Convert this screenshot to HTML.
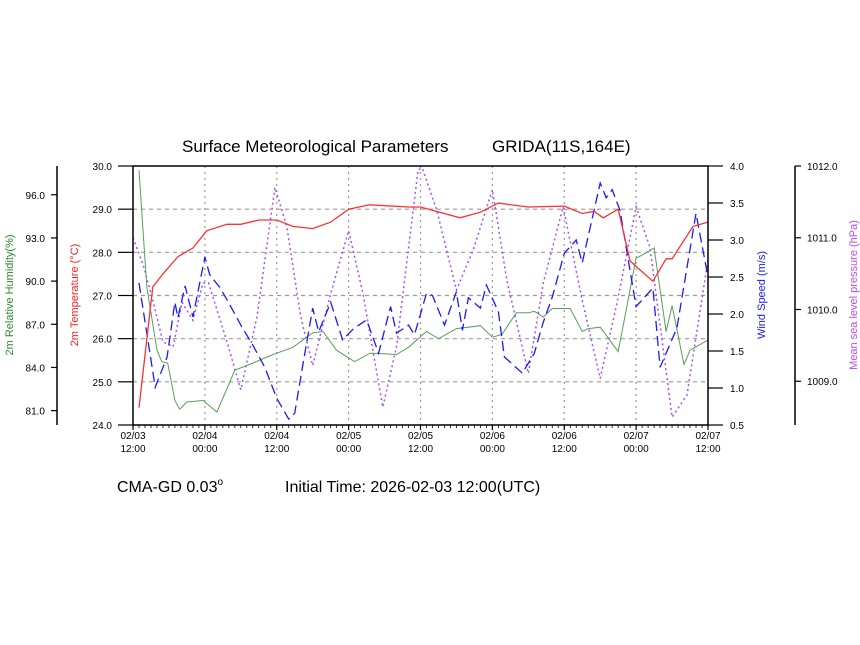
<!DOCTYPE html>
<html><head><meta charset="utf-8"><style>
html,body{margin:0;padding:0;background:#fff;}
svg{display:block;font-family:"Liberation Sans",sans-serif;}
</style></head><body>
<svg id="chart" width="860" height="645" viewBox="0 0 860 645" xmlns="http://www.w3.org/2000/svg">
<rect width="860" height="645" fill="#fff"/>
<text x="182" y="152" font-size="17" fill="#000">Surface Meteorological Parameters</text>
<text x="492" y="152" font-size="17" fill="#000">GRIDA(11S,164E)</text>
<g id="grid"></g>
<g id="series"></g>
<g id="axes"></g>
<text x="117" y="492" font-size="16" fill="#000">CMA-GD 0.03<tspan font-size="10" dy="-7">o</tspan></text>
<text x="285" y="492" font-size="16" fill="#000">Initial Time: 2026-02-03 12:00(UTC)</text>
<text transform="translate(13,295) rotate(-90)" font-size="11" fill="#2e8b2e" text-anchor="middle">2m Relative Humidity(%)</text>
<text transform="translate(78,295) rotate(-90)" font-size="11" fill="#ff2020" text-anchor="middle">2m Temperature (°C)</text>
<text transform="translate(765,295) rotate(-90)" font-size="11" fill="#1a1aff" text-anchor="middle">Wind Speed (m/s)</text>
<text transform="translate(857,295) rotate(-90)" font-size="11" fill="#b84cf0" text-anchor="middle">Mean sea level pressure (hPa)</text>
</svg>
<script>
const xTickHours = [0,12,24,36,48,60,72,84,96];
const xTickDates = ["02/03","02/04","02/04","02/05","02/05","02/06","02/06","02/07","02/07"];
const xTickTimes = ["12:00","00:00","12:00","00:00","12:00","00:00","12:00","00:00","12:00"];
const tempTicks = [24,25,26,27,28,29,30];
const rhTicks = [81,84,87,90,93,96];
const windTicks = [0.5,1,1.5,2,2.5,3,3.5,4];
const presTicks = [1009,1010,1011,1012];

const tempHours = [1,3.3,5,7.5,10,12.3,15.7,18,21,24,26.7,30,33,36,39.5,46,48,54.6,58,61,66,72,75,77,78.5,81,83,84.6,86.8,89,90,93.5,96];
const tempVals  = [24.4,27.2,27.5,27.9,28.1,28.5,28.65,28.65,28.75,28.75,28.6,28.55,28.7,29.0,29.1,29.05,29.05,28.8,28.93,29.14,29.05,29.07,28.9,28.95,28.8,29.0,27.8,27.6,27.33,27.85,27.85,28.6,28.7];

const rhHours = [1,2.3,4,4.8,5.8,7,7.8,9,11.7,14,17,20,23.4,26.7,30,31.7,34,37,39.6,44,46,49,51,54,58,60,61.6,64,66,67,68.5,70,73,75,76,78,81,84,85,87,89,90,92,93,96];
const rhVals  = [97.7,89.6,85.2,84.4,84.3,81.7,81.1,81.6,81.7,80.9,83.8,84.3,84.9,85.4,86.4,86.5,85.2,84.4,85.0,84.9,85.4,86.5,86.0,86.7,86.9,86.1,86.3,87.8,87.8,87.9,87.5,88.1,88.1,86.5,86.7,86.8,85.1,91.6,91.8,92.3,86.5,88.3,84.2,85.2,85.9];

const windHours = [1,3.7,5.7,7,7.5,8.7,10,12,12.8,14.5,16,18,20,22,24,26,27,28.5,30,31,33,35,36.8,39,41,43,44,46,47,49,50,52,54,55,56,58,59,61,62,65,67,68.5,70,72,74,75,78,79,80,81.3,84,86.8,88,90.8,94,96];
const windVals  = [2.42,1.01,1.42,2.16,1.95,2.38,1.96,2.77,2.53,2.36,2.15,1.85,1.58,1.28,0.86,0.58,0.66,1.38,2.08,1.76,2.16,1.65,1.8,1.92,1.47,2.1,1.74,1.85,1.72,2.28,2.25,1.85,2.3,1.78,2.22,2.08,2.39,2.03,1.42,1.2,1.47,1.89,2.23,2.82,3.0,2.69,3.77,3.57,3.68,3.4,2.1,2.35,1.28,1.81,3.36,2.5];

const presHours = [0,1.7,3.3,5,6.7,8.2,10,11.7,12.6,15.7,18,20.7,23.7,25.7,28,30,33,36,38.4,41.7,44,47.6,48.3,50.7,54,56.8,60,62.4,66,68.5,71.8,75,78,80.8,84,86.3,90,92.5,96];
const presVals  = [1011.0,1010.62,1010.13,1009.55,1009.48,1010.1,1009.85,1010.37,1010.37,1009.55,1008.88,1009.9,1011.7,1011.15,1009.9,1009.22,1010.22,1011.1,1010.22,1008.64,1009.48,1011.95,1011.97,1011.39,1010.27,1010.83,1011.67,1010.41,1009.11,1010.37,1011.43,1010.13,1009.04,1010.09,1011.43,1010.87,1008.5,1008.81,1010.69];

const L=133,R=708,T=166,B=425;
const xs=h=>L+(R-L)*h/96;
const yT=v=>B-(v-24)/6*(B-T);
const yRH=v=>B-(v-80)/18*(B-T);
const yW=v=>B-(v-0.5)/3.5*(B-T);
const yP=v=>B-(v-1008.39)/3.61*(B-T);
const NS="http://www.w3.org/2000/svg";
function mk(tag,attrs,parent){const e=document.createElementNS(NS,tag);for(const k in attrs)e.setAttribute(k,attrs[k]);parent.appendChild(e);return e;}
const grid=document.getElementById('grid'),series=document.getElementById('series'),axes=document.getElementById('axes');

xTickHours.forEach((h,i)=>{
  if(i>0&&i<xTickHours.length-1){const g=mk('line',{x1:xs(h),x2:xs(h),y1:T,y2:B,stroke:'#999','stroke-dasharray':'2,4','stroke-width':1.2},grid);
  
  }
  const t1=mk('text',{x:xs(h),y:B+14,'font-size':10,'text-anchor':'middle',fill:'#000'},axes);t1.textContent=xTickDates[i];
  
  
  const t2=mk('text',{x:xs(h),y:B+27,'font-size':10,'text-anchor':'middle',fill:'#000'},axes);t2.textContent=xTickTimes[i];
  
  
  mk('line',{x1:xs(h),x2:xs(h),y1:B,y2:B+5,stroke:'#000','stroke-width':1.2},axes);
});
for(let h=0;h<=96;h++){mk('line',{x1:xs(h),x2:xs(h),y1:B,y2:B+3,stroke:'#000','stroke-width':0.8},axes);}
tempTicks.forEach(v=>{
  if(v>24&&v<30){const g=mk('line',{x1:L,x2:R,y1:yT(v),y2:yT(v),stroke:'#999','stroke-dasharray':'4,4','stroke-width':1.2},grid);
  
  }
  mk('line',{x1:L-15,x2:L,y1:yT(v),y2:yT(v),stroke:'#000','stroke-width':1.2},axes);
  const t=mk('text',{x:L-21,y:yT(v)+4,'font-size':10,'text-anchor':'end',fill:'#000'},axes);t.textContent=v.toFixed(1);
  
  
});
mk('line',{x1:57,x2:57,y1:T,y2:B,stroke:'#000','stroke-width':1.5},axes);
rhTicks.forEach(v=>{
  mk('line',{x1:51,x2:57,y1:yRH(v),y2:yRH(v),stroke:'#000','stroke-width':1.2},axes);
  const t=mk('text',{x:45,y:yRH(v)+4,'font-size':10,'text-anchor':'end',fill:'#000'},axes);t.textContent=v.toFixed(1);
  
  
});
windTicks.forEach(v=>{
  mk('line',{x1:R,x2:R+15,y1:yW(v),y2:yW(v),stroke:'#000','stroke-width':1.2},axes);
  const t=mk('text',{x:R+22,y:yW(v)+4,'font-size':10,'text-anchor':'start',fill:'#000'},axes);t.textContent=v.toFixed(1);
  
  
});
mk('line',{x1:795,x2:795,y1:T,y2:B,stroke:'#000','stroke-width':1.5},axes);
presTicks.forEach(v=>{
  mk('line',{x1:795,x2:801,y1:yP(v),y2:yP(v),stroke:'#000','stroke-width':1.2},axes);
  const t=mk('text',{x:807,y:yP(v)+4,'font-size':10,'text-anchor':'start',fill:'#000'},axes);t.textContent=v.toFixed(1);
  
  
});
const frame=mk('rect',{x:L,y:T,width:R-L,height:B-T,fill:'none',stroke:'#000','stroke-width':1.5},axes);



function line(hours,vals,yf,attrs){
  const d=hours.map((h,i)=>(i?'L':'M')+xs(h).toFixed(1)+','+yf(vals[i]).toFixed(1)).join('');
  return mk('path',Object.assign({d:d,fill:'none'},attrs),series);
}
const pP=line(presHours,presVals,yP,{stroke:'#a64dff','stroke-width':1.5,'stroke-dasharray':'2,3'});


const pRH=line(rhHours,rhVals,yRH,{stroke:'#5a9e5a','stroke-width':1});


const pW=line(windHours,windVals,yW,{stroke:'#1a1aff','stroke-width':1.3,'stroke-dasharray':'10,5'});


const pT=line(tempHours,tempVals,yT,{stroke:'#ff3030','stroke-width':1.3});


</script>
</body></html>
